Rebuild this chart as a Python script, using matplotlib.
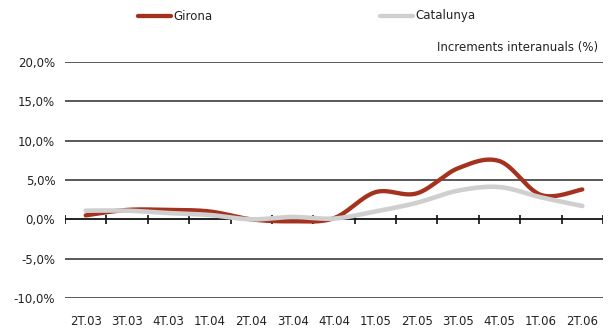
import numpy as np
import matplotlib
matplotlib.use("Agg")
import matplotlib.pyplot as plt
from matplotlib.lines import Line2D

categories = ["2T.03", "3T.03", "4T.03", "1T.04", "2T.04", "3T.04", "4T.04",
              "1T.05", "2T.05", "3T.05", "4T.05", "1T.06", "2T.06"]
girona = [0.5, 1.2, 1.2, 1.0, 0.0, -0.25, 0.15, 3.45, 3.3, 6.5, 7.4, 3.1, 3.8]
catalunya = [1.1, 1.1, 0.8, 0.55, 0.0, 0.3, 0.1, 1.0, 2.1, 3.65, 4.1, 2.8, 1.7]
yticks = [-10, -5, 0, 5, 10, 15, 20]
ytick_labels = ["-10,0%", "-5,0%", "0,0%", "5,0%", "10,0%", "15,0%", "20,0%"]
series_names = ["Girona", "Catalunya"]

RED = "#A5311F"
GRAY = "#CFCFCF"

plt.rcParams['font.family'] = ['DejaVu Sans']


def smooth(y, n=30):
    """Catmull-Rom style smoothing similar to spreadsheet smoothed lines."""
    y = np.asarray(y, float)
    x = np.arange(len(y), dtype=float)
    P = np.column_stack([x, y])
    P = np.vstack([P[0], P, P[-1]])
    out = []
    for i in range(1, len(P) - 2):
        p0, p1, p2, p3 = P[i - 1], P[i], P[i + 1], P[i + 2]
        c1 = p1 + (p2 - p0) / 6.0
        c2 = p2 - (p3 - p1) / 6.0
        t = np.linspace(0, 1, n, endpoint=(i == len(P) - 3))[:, None]
        seg = ((1 - t) ** 3) * p1 + 3 * ((1 - t) ** 2) * t * c1 + 3 * (1 - t) * t ** 2 * c2 + t ** 3 * p2
        out.append(seg)
    out = np.vstack(out)
    return out[:, 0], out[:, 1]


W, H = 611, 331
fig = plt.figure(figsize=(W / 100, H / 100), dpi=100)
ax = fig.add_axes([65 / W, 1 - 298 / H, (603 - 65) / W, (298 - 62) / H])
ax.set_xlim(-0.5, len(categories) - 0.5)
ax.set_ylim(-10, 20)
for s in ax.spines.values():
    s.set_visible(False)

for v in yticks:
    if v != 0:
        ax.axhline(v, color="#2b2b2b", lw=1.1, zorder=1)
ax.axhline(0, color="#111111", lw=1.3, zorder=1)

# tick marks crossing the zero line at category boundaries
bx = np.arange(len(categories) + 1) - 0.5
ax.vlines(bx, -0.6, 0.6, color="#111111", lw=1.2, zorder=1)

xs, ys = smooth(girona)
ax.plot(xs, ys, color=RED, lw=3.1, solid_capstyle="round", zorder=3)
xs, ys = smooth(catalunya)
ax.plot(xs, ys, color=GRAY, lw=3.3, solid_capstyle="round", zorder=4)

ax.set_yticks(yticks)
ax.set_yticklabels(ytick_labels, fontsize=8.5, color="#222222")
ax.set_xticks(np.arange(len(categories)))
ax.set_xticklabels(categories, fontsize=8.5, color="#222222")
ax.tick_params(axis="both", length=0)
ax.tick_params(axis="y", pad=7)
ax.tick_params(axis="x", pad=12)

fig.text(598 / W, 1 - 47 / H, "Increments interanuals (%)", ha="right", va="center",
         fontsize=8.5, color="#222222")

# legend drawn manually
for name, col, x0 in [(series_names[0], RED, 138), (series_names[1], GRAY, 380)]:
    yy = 1 - 16 / H
    fig.add_artist(Line2D([x0 / W, (x0 + 33) / W], [yy, yy], color=col, lw=3.1,
                          solid_capstyle="round"))
    fig.text((x0 + 35) / W, yy, name, ha="left", va="center", fontsize=8.5, color="#222222")

fig.savefig("out.png", dpi=100)
